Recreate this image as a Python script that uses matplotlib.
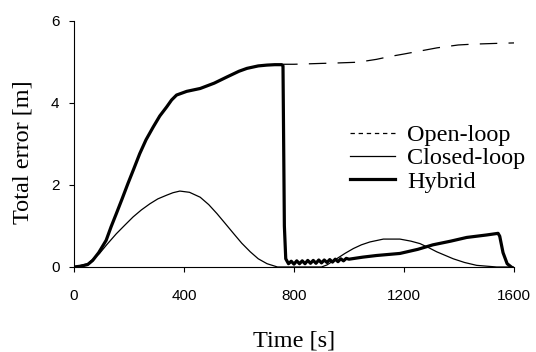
import matplotlib
matplotlib.use("Agg")
import matplotlib.pyplot as plt
from matplotlib.lines import Line2D

# time axis [s] and error values [m]
t_open = [0, 25, 50, 68, 90, 117, 135, 154, 175, 196, 218, 239, 262, 288, 312, 337, 355, 373, 410, 459, 510, 556, 600, 629, 670,
          702, 730, 760, 800, 850, 895, 950, 1033, 1100, 1149, 1200, 1264, 1320, 1397, 1450, 1542, 1600]
open_loop = [0, 0.02, 0.06, 0.16, 0.35, 0.65, 0.98, 1.3, 1.66, 2.03, 2.4, 2.76, 3.1, 3.41, 3.68, 3.9, 4.07, 4.19, 4.28, 4.35,
             4.48, 4.63, 4.77, 4.84, 4.9, 4.92, 4.93, 4.94, 4.94, 4.95, 4.96, 4.97, 4.99, 5.06, 5.13, 5.19, 5.27, 5.34, 5.41,
             5.43, 5.45, 5.46]

t_closed = [0, 50, 93, 120, 154, 185, 215, 245, 276, 305, 337, 360, 385, 420, 459, 490, 520, 550, 581, 610, 641, 670, 702,
            740, 800, 900, 920, 955, 985, 1016, 1045, 1076, 1125, 1185, 1225, 1258, 1290, 1319, 1379, 1420, 1464, 1537, 1600]
closed_loop = [0, 0.08, 0.33, 0.55, 0.81, 1.02, 1.22, 1.39, 1.54, 1.66, 1.75, 1.81, 1.85, 1.82, 1.7, 1.52, 1.3, 1.06, 0.81,
               0.58, 0.37, 0.2, 0.08, 0, 0, 0, 0.05, 0.2, 0.33, 0.45, 0.54, 0.61, 0.68, 0.68, 0.63, 0.57, 0.47, 0.37, 0.2,
               0.11, 0.04, 0, 0]

t_hybrid = [0, 25, 50, 68, 90, 117, 135, 154, 175, 196, 218, 239, 262, 288, 312, 337, 355, 373, 410, 459, 510, 556, 600, 629,
            670, 702, 730, 755, 760, 765, 770, 780, 790, 800, 810, 820, 830, 840, 850, 860, 870, 880, 890, 900, 910, 920, 930,
            940, 950, 960, 970, 980, 990, 1000, 1050, 1100, 1185, 1250, 1305, 1370, 1428, 1500, 1542, 1548, 1560, 1575, 1590]
hybrid = [0, 0.02, 0.06, 0.16, 0.35, 0.65, 0.98, 1.3, 1.66, 2.03, 2.4, 2.76, 3.1, 3.41, 3.68, 3.9, 4.07, 4.19, 4.28, 4.35, 4.48,
          4.63, 4.77, 4.84, 4.9, 4.92, 4.93, 4.93, 4.9, 1.0, 0.2, 0.08, 0.14, 0.07, 0.15, 0.08, 0.15, 0.08, 0.16, 0.09, 0.16,
          0.09, 0.17, 0.1, 0.17, 0.11, 0.18, 0.12, 0.19, 0.13, 0.2, 0.15, 0.21, 0.19, 0.24, 0.28, 0.33, 0.43, 0.54, 0.63, 0.72,
          0.78, 0.82, 0.75, 0.35, 0.08, 0]

labels = ["Open-loop", "Closed-loop", "Hybrid"]

serif = ["Liberation Serif", "DejaVu Serif"]
sans = ["Liberation Sans", "DejaVu Sans"]

fig = plt.figure(figsize=(5.36, 3.52), dpi=100)
ax = fig.add_axes([0.138, 0.2415, 0.821, 0.6995])

ax.plot(t_open, open_loop, color="black", lw=0.9, dashes=(14, 9))
ax.plot(t_closed, closed_loop, color="black", lw=0.9)
ax.plot(t_hybrid, hybrid, color="black", lw=2.3)

ax.set_xlim(0, 1600)
ax.set_ylim(0, 6)
ax.set_xticks([0, 400, 800, 1200, 1600])
ax.set_yticks([0, 2, 4, 6])
for s in ["top", "right"]:
    ax.spines[s].set_visible(False)
ax.spines["left"].set_linewidth(0.8)
ax.spines["bottom"].set_linewidth(0.8)
ax.tick_params(direction="out", length=3.5, width=0.8)
ax.tick_params(axis="x", pad=12.5)
ax.tick_params(axis="y", pad=7)
for lab in ax.get_xticklabels() + ax.get_yticklabels():
    lab.set_family(sans)
    lab.set_fontsize(11)

ax.set_xlabel("Time [s]", family=serif, fontsize=17.5, labelpad=19.5)
ax.set_ylabel("Total error [m]", family=serif, fontsize=17.5, va="center")
ax.yaxis.set_label_coords(-0.116, 0.467)

handles = [Line2D([], [], color="black", lw=0.9, dashes=(3.5, 3)),
           Line2D([], [], color="black", lw=0.9),
           Line2D([], [], color="black", lw=2.3)]
ax.legend(handles, labels, loc="upper left", bbox_to_anchor=(0.627, 0.58), frameon=False,
          prop={"family": serif, "size": 17.5}, handlelength=1.85, handletextpad=0.5,
          labelspacing=0.05, borderpad=0, borderaxespad=0)

fig.savefig("out.png", dpi=100)
